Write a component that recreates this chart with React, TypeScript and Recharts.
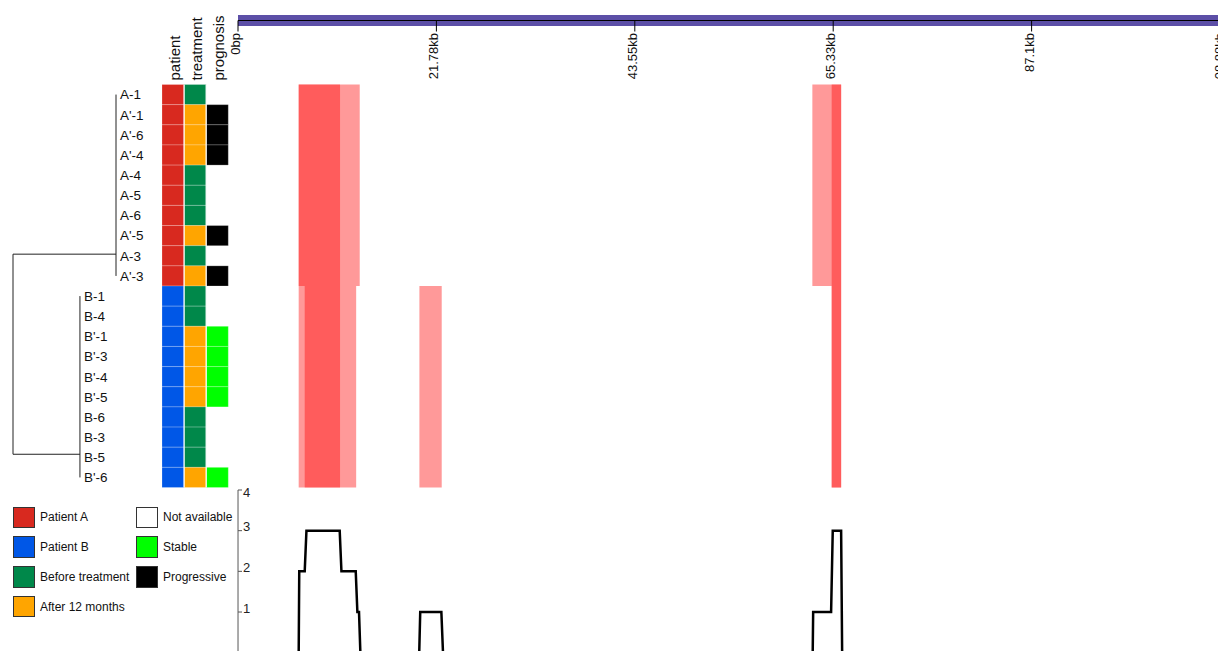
import React from "react";
import {
  ComposedChart,
  Line,
  ReferenceArea,
  ReferenceLine,
  XAxis,
  YAxis,
} from "recharts";

const FONT = "'Liberation Sans', Arial, Helvetica, sans-serif";

// samples, top to bottom
const SAMPLES = [
  "A-1", "A'-1", "A'-6", "A'-4", "A-4", "A-5", "A-6", "A'-5", "A-3", "A'-3",
  "B-1", "B-4", "B'-1", "B'-3", "B'-4", "B'-5", "B-6", "B-3", "B-5", "B'-6",
];
const PATIENT = [
  "A", "A", "A", "A", "A", "A", "A", "A", "A", "A",
  "B", "B", "B", "B", "B", "B", "B", "B", "B", "B",
];
const TREATMENT = [
  "Before", "After", "After", "After", "Before", "Before", "Before", "After", "Before", "After",
  "Before", "Before", "After", "After", "After", "After", "Before", "Before", "Before", "After",
];
const PROGNOSIS = [
  "NA", "Progressive", "Progressive", "Progressive", "NA", "NA", "NA", "Progressive", "NA", "Progressive",
  "NA", "NA", "Stable", "Stable", "Stable", "Stable", "NA", "NA", "NA", "Stable",
];
const ANNOTATION_TRACKS = ["patient", "treatment", "prognosis"];

const COLORS: Record<string, string> = {
  A: "#d8291f",
  B: "#0057e7",
  Before: "#00884a",
  After: "#ffa500",
  NA: "#ffffff",
  Stable: "#00ff00",
  Progressive: "#000000",
};

const LEGEND_KEYS = ["A", "B", "Before", "After", "NA", "Stable", "Progressive"];
const LEGEND_LABELS = [
  "Patient A", "Patient B", "Before treatment", "After 12 months",
  "Not available", "Stable", "Progressive",
];

// genome coordinate axis (kb)
const GENOME_LENGTH = 108.88;
const GENOME_TICKS = [0, 21.776, 43.552, 65.328, 87.104, 108.88];
const GENOME_TICK_LABELS = ["0bp", "21.78kb", "43.55kb", "65.33kb", "87.1kb", "108.88kb"];

// segments per patient group (kb)
const SEGMENT_GROUP = ["A", "A", "A", "A", "B", "B", "B", "B", "B"];
const SEGMENT_START = [6.66, 6.66, 63.04, 65.16, 6.66, 7.32, 19.91, 65.16, 65.16];
const SEGMENT_END = [13.36, 11.2, 66.2, 66.2, 12.97, 11.2, 22.36, 66.2, 66.2];

// coverage track
const COVERAGE_POS = [
  0, 6.66, 6.72, 7.32, 7.51, 11.16, 11.35, 12.92, 13.1, 13.28, 13.43,
  19.89, 20.0, 22.32, 22.5, 63.08, 63.13, 65.1, 65.28, 66.2, 66.31, 108.88,
];
const COVERAGE_VAL = [
  0, 0, 2, 2, 3, 3, 2, 2, 1, 1, 0,
  0, 1, 1, 0, 0, 1, 1, 3, 3, 0, 0,
];
const COVERAGE_TICKS = [1, 2, 3, 4];

// dendrogram (depth 0 = root)
const CLUSTER_NAMES = ["A", "B"];
const CLUSTER_DEPTH = [1, 0.65];
const CLUSTER_FIRST_ROW = [0, 10];
const CLUSTER_LAST_ROW = [9, 19];
const CLUSTER_JOIN_ROW = [8.42, 18.35];

// layout
const ROWS_TOP = 84.5;
const ROWS_HEIGHT = 403;
const PANEL_H = 500;
const GENOME_LEFT = 238;
const GENOME_WIDTH = 992;
const CHART_W = GENOME_LEFT + GENOME_WIDTH + 2;
const DENDRO_LEFT = 13;
const DENDRO_WIDTH = 103;
const TRACK_LEFT = 162;
const TRACK_WIDTH = 66.3;
const COV_TOP = 480;
const COV_MARGIN_TOP = 10;
const COV_PLOT_H = 162.7;

const rowTicks = SAMPLES.map((_, i) => i + 0.5);
const coverageData = COVERAGE_POS.map((pos, i) => ({ pos, val: COVERAGE_VAL[i] }));

const GenomeTick = (props: any) => {
  const { x, y, payload } = props;
  const i = GENOME_TICKS.findIndex((t) => Math.abs(t - payload.value) < 1e-6);
  const tx = x + 2 - (i === GENOME_TICKS.length - 1 ? 8 : 0);
  return (
    <text
      x={tx}
      y={y}
      transform={`rotate(-90 ${tx} ${y})`}
      textAnchor="end"
      fontSize={13}
      fontFamily={FONT}
      fill="#111"
    >
      {GENOME_TICK_LABELS[i]}
    </text>
  );
};

const HeaderTick = (props: any) => {
  const { x, y, payload } = props;
  const label = ANNOTATION_TRACKS[Math.floor(payload.value)];
  const tx = x + 7;
  return (
    <text
      x={tx}
      y={y}
      transform={`rotate(-90 ${tx} ${y})`}
      textAnchor="start"
      fontSize={15}
      fontFamily={FONT}
      fill="#111"
    >
      {label}
    </text>
  );
};

const RowTick = (props: any) => {
  const { y, payload } = props;
  const row = Math.floor(payload.value);
  const c = CLUSTER_NAMES.indexOf(PATIENT[row]);
  const tx = DENDRO_LEFT + CLUSTER_DEPTH[c] * DENDRO_WIDTH + 4;
  return (
    <text x={tx} y={y} dy="0.36em" textAnchor="start" fontSize={13.5} fontFamily={FONT} fill="#111">
      {SAMPLES[row]}
    </text>
  );
};

// tick mark drawn here so the axis line can sit exactly at the panel edge
const CoverageTick = (props: any) => {
  const { x, y, payload } = props;
  const cy = Math.max(y - 4, COV_MARGIN_TOP + 2.5);
  return (
    <g>
      <line x1={x} x2={x + 4} y1={y} y2={y} stroke="#555" strokeWidth={1} />
      <text x={x + 5} y={cy} dy="0.36em" textAnchor="start" fontSize={13} fontFamily={FONT} fill="#222">
        {payload.value}
      </text>
    </g>
  );
};

function GenomeAxis() {
  return (
    <ComposedChart
      width={CHART_W}
      height={80}
      margin={{ top: 15, left: GENOME_LEFT, right: 2, bottom: 0 }}
    >
      <XAxis
        type="number"
        dataKey="pos"
        domain={[0, GENOME_LENGTH]}
        ticks={GENOME_TICKS}
        interval={0}
        height={59.5}
        tickSize={11}
        tickMargin={1.5}
        axisLine={{ stroke: "#000", strokeWidth: 1 }}
        tickLine={{ stroke: "#000", strokeWidth: 1 }}
        tick={<GenomeTick />}
        allowDataOverflow
      />
      <YAxis type="number" domain={[0, 1]} allowDataOverflow hide />
      <ReferenceArea
        x1={0}
        x2={GENOME_LENGTH}
        y1={-1}
        y2={1}
        fill="#5c4fa7"
        fillOpacity={1}
        ifOverflow="visible"
      />
    </ComposedChart>
  );
}

function Heatmap() {
  return (
    <ComposedChart
      width={CHART_W}
      height={PANEL_H}
      margin={{ top: ROWS_TOP, left: GENOME_LEFT, right: 2, bottom: PANEL_H - ROWS_TOP - ROWS_HEIGHT }}
    >
      <XAxis type="number" dataKey="pos" domain={[0, GENOME_LENGTH]} allowDataOverflow hide />
      <YAxis type="number" dataKey="row" domain={[0, SAMPLES.length]} reversed allowDataOverflow hide />
      {SEGMENT_GROUP.map((g, i) => {
        const first = PATIENT.indexOf(g);
        const count = PATIENT.filter((p) => p === g).length;
        return (
          <ReferenceArea
            key={i}
            x1={SEGMENT_START[i]}
            x2={SEGMENT_END[i]}
            y1={first}
            y2={first + count}
            fill="#ff0000"
            fillOpacity={0.4}
            stroke="none"
            ifOverflow="visible"
          />
        );
      })}
    </ComposedChart>
  );
}

function Annotations() {
  const tracks = [PATIENT, TREATMENT, PROGNOSIS];
  return (
    <ComposedChart
      width={TRACK_LEFT + TRACK_WIDTH + 10}
      height={PANEL_H}
      margin={{ top: 0, left: 0, right: 10, bottom: PANEL_H - ROWS_TOP - ROWS_HEIGHT }}
    >
      <XAxis
        type="number"
        dataKey="col"
        orientation="top"
        domain={[0, 3]}
        ticks={[0.5, 1.5, 2.5]}
        interval={0}
        height={ROWS_TOP}
        tickSize={0}
        tickMargin={4}
        axisLine={false}
        tickLine={false}
        tick={<HeaderTick />}
        allowDataOverflow
      />
      <YAxis
        type="number"
        dataKey="row"
        domain={[0, SAMPLES.length]}
        reversed
        ticks={rowTicks}
        interval={0}
        width={TRACK_LEFT}
        axisLine={false}
        tickLine={false}
        tick={<RowTick />}
        allowDataOverflow
      />
      {tracks.map((track, c) =>
        track.map((v, r) =>
          v === "NA" ? null : (
            <ReferenceArea
              key={`${c}-${r}`}
              x1={c}
              x2={c + 1}
              y1={r}
              y2={r + 1}
              fill={COLORS[v]}
              fillOpacity={1}
              stroke="#ffffff"
              strokeOpacity={0.22}
              strokeWidth={1}
              ifOverflow="visible"
            />
          )
        )
      )}
      {/* thin gaps between the three annotation columns */}
      {[1, 2].map((c) => (
        <ReferenceLine key={c} x={c} stroke="#ffffff" strokeWidth={1.2} ifOverflow="visible" />
      ))}
    </ComposedChart>
  );
}

function Dendrogram() {
  const segs: { x: number; y: number }[][] = [];
  CLUSTER_NAMES.forEach((_, c) => {
    segs.push([
      { x: CLUSTER_DEPTH[c], y: CLUSTER_FIRST_ROW[c] + 0.5 },
      { x: CLUSTER_DEPTH[c], y: CLUSTER_LAST_ROW[c] + 0.5 },
    ]);
    segs.push([
      { x: 0, y: CLUSTER_JOIN_ROW[c] },
      { x: CLUSTER_DEPTH[c], y: CLUSTER_JOIN_ROW[c] },
    ]);
  });
  segs.push([
    { x: 0, y: CLUSTER_JOIN_ROW[0] },
    { x: 0, y: CLUSTER_JOIN_ROW[1] },
  ]);
  return (
    <ComposedChart
      width={DENDRO_LEFT + DENDRO_WIDTH + 10}
      height={PANEL_H}
      margin={{ top: ROWS_TOP, left: DENDRO_LEFT, right: 10, bottom: PANEL_H - ROWS_TOP - ROWS_HEIGHT }}
    >
      <XAxis type="number" dataKey="depth" domain={[0, 1]} allowDataOverflow hide />
      <YAxis type="number" dataKey="row" domain={[0, SAMPLES.length]} reversed allowDataOverflow hide />
      {segs.map((s, i) => (
        <ReferenceLine key={i} segment={s} stroke="#222" strokeWidth={1} ifOverflow="visible" />
      ))}
    </ComposedChart>
  );
}

function Coverage() {
  return (
    <ComposedChart
      width={CHART_W}
      height={COV_MARGIN_TOP + COV_PLOT_H + 8}
      data={coverageData}
      margin={{ top: COV_MARGIN_TOP, left: GENOME_LEFT - 1, right: 2, bottom: 8 }}
    >
      <XAxis type="number" dataKey="pos" domain={[0, GENOME_LENGTH]} allowDataOverflow hide />
      <YAxis
        type="number"
        domain={[0, 4]}
        ticks={COVERAGE_TICKS}
        interval={0}
        width={1}
        tickSize={0}
        tickMargin={0}
        axisLine={{ stroke: "#555", strokeWidth: 1 }}
        tickLine={false}
        tick={<CoverageTick />}
        allowDataOverflow
      />
      <Line
        type="linear"
        dataKey="val"
        stroke="#000"
        strokeWidth={2.5}
        dot={false}
        isAnimationActive={false}
      />
    </ComposedChart>
  );
}

function LegendBox() {
  return (
    <>
      {LEGEND_KEYS.map((k, i) => {
        const col = i < 4 ? 0 : 1;
        const row = i < 4 ? i : i - 4;
        const left = col === 0 ? 13 : 136;
        const top = 506.5 + row * 29.8;
        return (
          <div key={k} style={{ position: "absolute", left, top, display: "flex", alignItems: "center" }}>
            <div
              style={{
                width: 21.5,
                height: 21.5,
                boxSizing: "border-box",
                background: COLORS[k],
                border: "1.5px solid #333",
              }}
            />
            <span
              style={{
                marginLeft: 5.5,
                fontSize: 12,
                fontFamily: FONT,
                color: "#111",
                whiteSpace: "nowrap",
              }}
            >
              {LEGEND_LABELS[i]}
            </span>
          </div>
        );
      })}
    </>
  );
}

export default function App() {
  return (
    <div
      style={{
        position: "absolute",
        left: 0,
        top: 0,
        width: 1218,
        height: 651,
        overflow: "hidden",
        background: "#fff",
      }}
    >
      <div style={{ position: "absolute", left: 0, top: 0 }}>
        <GenomeAxis />
      </div>
      <div style={{ position: "absolute", left: 0, top: 0 }}>
        <Heatmap />
      </div>
      <div style={{ position: "absolute", left: 0, top: 0 }}>
        <Dendrogram />
      </div>
      <div style={{ position: "absolute", left: 0, top: 0 }}>
        <Annotations />
      </div>
      <div style={{ position: "absolute", left: 0, top: COV_TOP }}>
        <Coverage />
      </div>
      <LegendBox />
    </div>
  );
}
